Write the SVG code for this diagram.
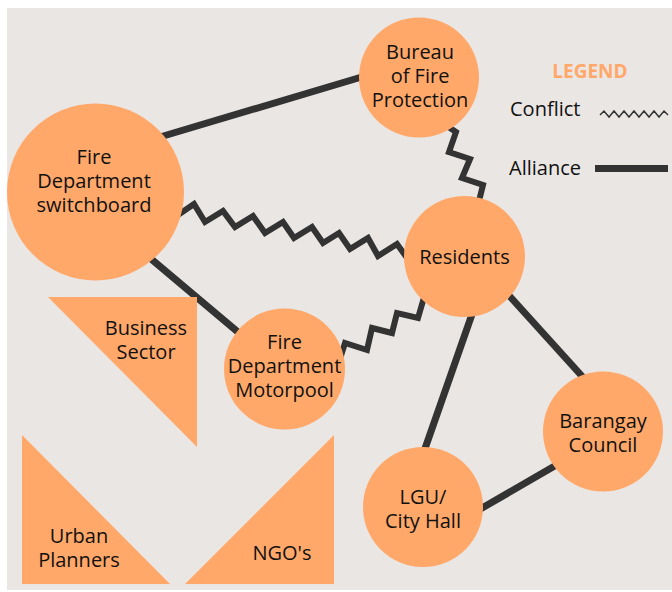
<svg xmlns="http://www.w3.org/2000/svg" width="672" height="592" viewBox="0 0 672 592">
<style>
.bg{fill:#EAE6E3}
.node{fill:#FFA869}
.lbl{font-family:"Open Sans","Liberation Sans",sans-serif;font-size:20px;fill:#111;text-anchor:middle}
.ally{stroke:#333;stroke-width:7;fill:none;stroke-linecap:butt}
.conf{stroke:#333;stroke-width:6;fill:none;stroke-linejoin:miter}
.leg{font-family:"Open Sans","Liberation Sans",sans-serif;font-size:19px;font-weight:bold;fill:#FFA869;text-anchor:middle}
.legtxt{font-family:"Open Sans","Liberation Sans",sans-serif;font-size:20px;fill:#111}
</style>
<rect class="bg" x="7" y="8" width="665" height="582"/>
<g id="connectors">
<line class="ally" x1="160" y1="137" x2="365" y2="76"/>
<line class="ally" x1="150" y1="258" x2="245" y2="338"/>
<line class="ally" x1="477" y1="300" x2="421" y2="460"/>
<line class="ally" x1="495" y1="280" x2="590" y2="385"/>
<line class="ally" x1="470" y1="515" x2="565" y2="460"/>
<polyline class="conf" points="175,217 194,204 205,222 223,211 235,227 253,216 265,233 283,222 294,238 312,227 323,243 339,233 350,249 368,238 378,256 397,244 410,262"/>
<polyline class="conf" points="338,365 345,343 367,350 372,328 392,333 397,313 418,318 425,294"/>
<polyline class="conf" points="447,126 456,132 449,152 470,159 462,178 483,185 478,205"/>
</g>
<g id="switchboard"><circle class="node" cx="95.5" cy="192" r="88.5"/>
<text class="lbl" x="94" y="164">Fire</text><text class="lbl" x="94" y="188">Department</text><text class="lbl" x="94" y="212">switchboard</text></g>
<g id="bureau"><circle class="node" cx="419" cy="77.5" r="60"/>
<text class="lbl" x="420" y="59">Bureau</text><text class="lbl" x="420" y="83">of Fire</text><text class="lbl" x="420" y="107">Protection</text></g>
<g id="residents"><circle class="node" cx="464.5" cy="256.5" r="60.5"/>
<text class="lbl" x="464.5" y="264">Residents</text></g>
<g id="motorpool"><circle class="node" cx="284.5" cy="369" r="60.5"/>
<text class="lbl" x="284.5" y="349">Fire</text><text class="lbl" x="284.5" y="373">Department</text><text class="lbl" x="284.5" y="397">Motorpool</text></g>
<g id="barangay"><circle class="node" cx="603" cy="431.5" r="60"/>
<text class="lbl" x="603" y="428">Barangay</text><text class="lbl" x="603" y="452">Council</text></g>
<g id="lgu"><circle class="node" cx="423" cy="507" r="60"/>
<text class="lbl" x="423" y="504">LGU/</text><text class="lbl" x="423" y="528">City Hall</text></g>
<g id="business"><polygon class="node" points="48,297 197,297 197,447"/>
<text class="lbl" x="146" y="335">Business</text><text class="lbl" x="146" y="359">Sector</text></g>
<g id="urban"><polygon class="node" points="22,435 22,584 170,584"/>
<text class="lbl" x="79" y="543">Urban</text><text class="lbl" x="79" y="567">Planners</text></g>
<g id="ngo"><polygon class="node" points="185,584 334,435 334,584"/>
<text class="lbl" x="282" y="560">NGO's</text></g>
<g id="legend">
<text class="leg" x="590" y="78">LEGEND</text>
<text class="legtxt" x="510" y="116">Conflict</text>
<polyline points="600,115 604,111 609,117 614,111 619,117 624,111 629,117 634,111 639,117 644,111 649,117 654,111 659,117 664,111 668,115" fill="none" stroke="#333" stroke-width="1.5"/>
<text class="legtxt" x="509" y="175">Alliance</text>
<line x1="595" y1="168.5" x2="668" y2="168.5" stroke="#333" stroke-width="7"/>
</g>
</svg>
